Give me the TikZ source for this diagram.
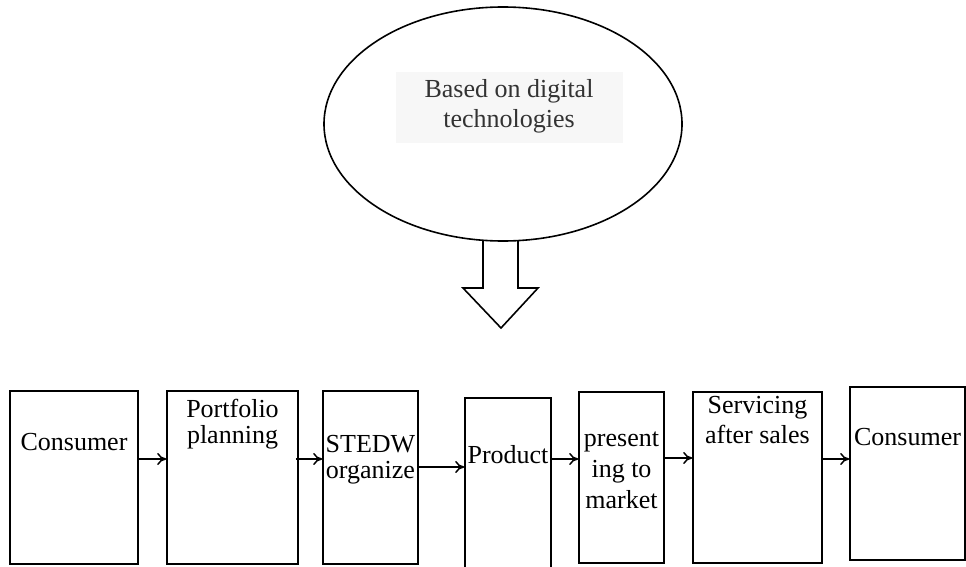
\documentclass[tikz,border=0pt]{standalone}
\usepackage{fontspec}
\setmainfont{Liberation Serif}
\usetikzlibrary{shapes.geometric,arrows.meta}
\begin{document}
\begin{tikzpicture}[x=1pt,y=-1pt,
  box/.style={draw,line width=1.6pt,inner sep=0pt},
  lbl/.style={font=\fontsize{26}{30}\selectfont,anchor=base,inner sep=0pt},
  elbl/.style={font=\fontsize{26}{30}\selectfont,anchor=base,inner sep=0pt,text=black!80},
  flow/.style={-{To[length=9pt,width=12pt]},line width=1.5pt}]
\useasboundingbox (0,0) rectangle (966,567);
% top ellipse
\fill[black!3] (396,72) rectangle (623,143);
\node[draw,ellipse,line width=1.6pt,minimum width=358pt,minimum height=234pt,inner sep=0pt] (e) at (503,124) {};
\node[elbl] (e1) at (509,98) {Based on digital};
\node[elbl] (e2) at (509,128) {technologies};
% block arrow
\draw[line width=1.6pt,line join=miter] (483,240.5) -- (483,288) -- (463,288) -- (501,328) -- (538,288) -- (518,288) -- (518,240.5);
% boxes
\node[box,minimum width=128pt,minimum height=173pt] (b1) at (74,477.5) {};
\node[box,minimum width=131pt,minimum height=173pt] (b2) at (232.5,477.5) {};
\node[box,minimum width=95pt,minimum height=173pt] (b3) at (370.5,477.5) {};
\node[box,minimum width=86pt,minimum height=182pt] (b4) at (508,489) {};
\node[box,minimum width=85pt,minimum height=171pt] (b5) at (621.5,477.5) {};
\node[box,minimum width=129pt,minimum height=171pt] (b6) at (757.5,477.5) {};
\node[box,minimum width=115pt,minimum height=173pt] (b7) at (907.5,473.5) {};
% labels
\node[lbl] (t1) at (74,450) {Consumer};
\node[lbl] (t2a) at (232.5,417) {Portfolio};
\node[lbl] (t2b) at (232.5,443) {planning};
\node[lbl] (t3a) at (370.5,452) {STEDW};
\node[lbl] (t3b) at (370.5,478) {organize};
\node[lbl] (t4) at (508,463) {Product};
\node[lbl] (t5a) at (621.5,446) {present};
\node[lbl] (t5b) at (621.5,477) {ing to};
\node[lbl] (t5c) at (621.5,508) {market};
\node[lbl] (t6a) at (757.5,413) {Servicing};
\node[lbl] (t6b) at (757.5,443) {after sales};
\node[lbl] (t7) at (907.5,445) {Consumer};
% connectors
\draw[flow] (b1.east |- 0,459) -- (b2.west |- 0,459);
\draw[flow] ([xshift=-3pt]b2.east |- 0,459) -- (b3.west |- 0,459);
\draw[flow] (b3.east |- 0,467) -- (b4.west |- 0,467);
\draw[flow] (b4.east |- 0,459) -- (b5.west |- 0,459);
\draw[flow] (b5.east |- 0,458) -- (b6.west |- 0,458);
\draw[flow] (b6.east |- 0,459) -- (b7.west |- 0,459);
\end{tikzpicture}
\end{document}
